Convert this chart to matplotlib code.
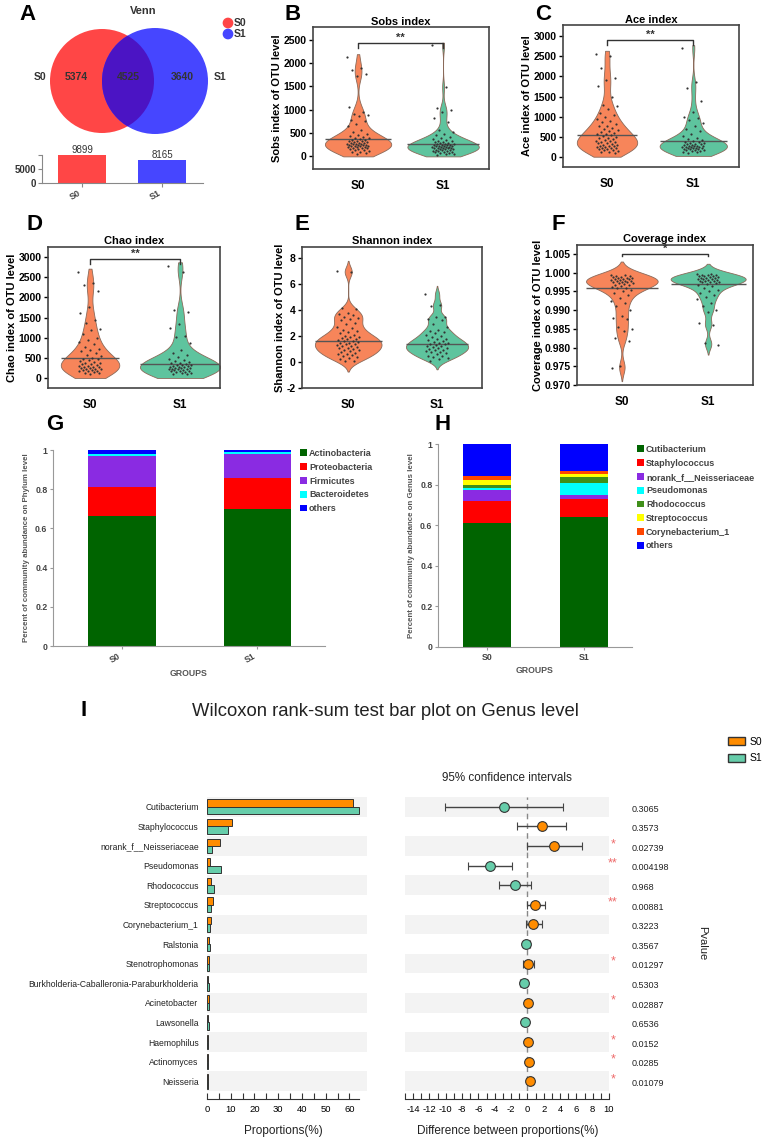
import numpy as np
import matplotlib
matplotlib.use("Agg")
import matplotlib.pyplot as plt
from matplotlib.patches import Circle, Patch

plt.rcParams['font.family'] = ['Liberation Sans', 'DejaVu Sans']
plt.rcParams['axes.unicode_minus'] = False

# ---------------- DATA ----------------
groups = ["S0", "S1"]

# Venn (A)
venn_only_s0 = 5374
venn_shared = 4525
venn_only_s1 = 3640
venn_totals = [9899, 8165]

# Alpha diversity (B-F), values read from the jittered points
sobs_s0 = [2120, 1900, 1840, 1760, 1720, 1050, 960, 910, 890, 860, 780, 760, 700, 640, 560, 520, 490, 460,
           440, 420, 400, 390, 375, 360, 350, 340, 330, 320, 310, 300, 295, 290, 280, 275, 270, 260, 255,
           250, 245, 240, 235, 230, 225, 220, 215, 210, 200, 195, 190, 180, 170, 160, 150, 140, 130, 115,
           100, 85, 70, 50]
sobs_s1 = [2380, 1480, 1030, 990, 960, 820, 740, 560, 520, 480, 450, 420, 400, 380, 360, 340, 320, 310,
           300, 290, 280, 270, 265, 260, 250, 245, 240, 235, 230, 225, 220, 215, 210, 205, 200, 195, 190,
           185, 180, 175, 170, 165, 160, 150, 145, 140, 130, 125, 120, 110, 100, 95, 90, 80, 70, 60, 50, 40]
sobs_line = [370, 260]

ace_s0 = [2550, 2500, 2200, 1950, 1900, 1760, 1500, 1300, 1260, 1200, 1100, 1030, 1000, 950, 900, 860,
          820, 780, 760, 720, 700, 680, 650, 620, 600, 580, 560, 540, 520, 500, 480, 460, 440, 420, 400,
          390, 380, 360, 350, 340, 320, 300, 290, 280, 270, 260, 250, 240, 230, 220, 210, 200, 190, 180,
          160, 150, 130, 110, 90]
ace_s1 = [2700, 1850, 1700, 1400, 1120, 1000, 960, 920, 850, 780, 700, 640, 580, 520, 480, 450, 420, 400,
          380, 360, 350, 340, 330, 320, 310, 300, 290, 280, 275, 270, 260, 255, 250, 240, 235, 230, 220,
          215, 210, 200, 195, 190, 180, 170, 160, 150, 140, 130, 120, 100]
ace_line = [540, 400]

chao_s0 = [2620, 2350, 2300, 2170, 1760, 1600, 1450, 1370, 1220, 1180, 1100, 1000, 950, 880, 850, 760,
           720, 700, 660, 620, 580, 540, 500, 480, 460, 440, 420, 400, 380, 360, 350, 340, 320, 300, 290,
           280, 270, 260, 250, 240, 230, 220, 210, 200, 190, 180, 170, 160, 150, 130, 110, 90]
chao_s1 = [2780, 2630, 1680, 1640, 1330, 1250, 1050, 1020, 860, 700, 620, 580, 520, 480, 450, 420, 400,
           380, 360, 340, 330, 320, 310, 300, 290, 280, 270, 260, 250, 245, 240, 230, 220, 215, 210, 200,
           190, 180, 170, 160, 150, 140, 130, 120, 100, 90]
chao_line = [490, 350]

shannon_s0 = [7.0, 6.9, 4.15, 4.05, 3.8, 3.7, 3.6, 3.5, 3.4, 3.3, 3.2, 3.0, 2.9, 2.7, 2.6, 2.5, 2.4, 2.3,
              2.2, 2.1, 2.0, 1.95, 1.9, 1.85, 1.8, 1.75, 1.7, 1.65, 1.6, 1.55, 1.5, 1.45, 1.4, 1.35, 1.3,
              1.25, 1.2, 1.15, 1.1, 1.05, 1.0, 0.95, 0.9, 0.85, 0.8, 0.7, 0.65, 0.6, 0.55, 0.5, 0.4, 0.3,
              0.2, 0.1, 0.05]
shannon_s1 = [5.2, 4.4, 4.3, 3.5, 3.45, 3.3, 3.2, 2.9, 2.7, 2.5, 2.4, 2.3, 2.2, 2.1, 2.0, 1.9, 1.8, 1.75,
              1.7, 1.6, 1.55, 1.5, 1.45, 1.4, 1.35, 1.3, 1.25, 1.2, 1.15, 1.1, 1.05, 1.0, 0.95, 0.9, 0.85,
              0.8, 0.75, 0.7, 0.6, 0.5, 0.45, 0.4, 0.3, 0.2, 0.1]
shannon_line = [1.62, 1.4]

coverage_s0 = [0.9995, 0.9993, 0.9991, 0.9990, 0.9989, 0.9988, 0.9987, 0.9986, 0.9985, 0.9984, 0.9983,
               0.9982, 0.9981, 0.9980, 0.9979, 0.9978, 0.9977, 0.9976, 0.9975, 0.9974, 0.9973, 0.9972,
               0.9970, 0.9968, 0.9966, 0.9965, 0.9963, 0.9960, 0.9958, 0.9955, 0.9950, 0.9945, 0.9940,
               0.9932, 0.9925, 0.9920, 0.9910, 0.9900, 0.9885, 0.9880, 0.9875, 0.9855, 0.9850, 0.9845,
               0.9825, 0.9818, 0.9750, 0.9745]
coverage_s1 = [0.9997, 0.9996, 0.9995, 0.9994, 0.9993, 0.9992, 0.9991, 0.9990, 0.9989, 0.9988, 0.9987,
               0.9986, 0.9985, 0.9984, 0.9983, 0.9982, 0.9981, 0.9980, 0.9979, 0.9978, 0.9977, 0.9976,
               0.9975, 0.9974, 0.9972, 0.9970, 0.9968, 0.9965, 0.9960, 0.9955, 0.9950, 0.9945, 0.9940,
               0.9935, 0.9930, 0.9920, 0.9910, 0.9900, 0.9895, 0.9865, 0.9860, 0.9812, 0.9808]
coverage_line = [0.996, 0.997]

sig_sobs, sig_ace, sig_chao, sig_shannon, sig_coverage = "**", "**", "**", "", "*"

# Phylum composition (G)
phylum_names = ["Actinobacteria", "Proteobacteria", "Firmicutes", "Bacteroidetes", "others"]
phylum_s0 = [0.665, 0.145, 0.160, 0.012, 0.018]
phylum_s1 = [0.700, 0.155, 0.125, 0.008, 0.012]

# Genus composition (H)
genus_names = ["Cutibacterium", "Staphylococcus", "norank_f__Neisseriaceae", "Pseudomonas",
               "Rhodococcus", "Streptococcus", "Corynebacterium_1", "others"]
genus_s0 = [0.612, 0.105, 0.055, 0.012, 0.015, 0.025, 0.018, 0.158]
genus_s1 = [0.642, 0.088, 0.020, 0.058, 0.030, 0.015, 0.012, 0.135]

# Wilcoxon (I)
wil_genus = ["Cutibacterium", "Staphylococcus", "norank_f__Neisseriaceae", "Pseudomonas", "Rhodococcus",
             "Streptococcus", "Corynebacterium_1", "Ralstonia", "Stenotrophomonas",
             "Burkholderia-Caballeronia-Paraburkholderia", "Acinetobacter", "Lawsonella", "Haemophilus",
             "Actinomyces", "Neisseria"]
wil_prop_s0 = [61.4, 10.5, 5.3, 1.3, 1.5, 2.4, 1.7, 0.9, 0.9, 0.5, 0.8, 0.4, 0.6, 0.5, 0.6]
wil_prop_s1 = [64.2, 8.8, 2.1, 5.9, 3.1, 1.5, 1.2, 1.1, 0.8, 1.0, 0.7, 0.7, 0.4, 0.3, 0.3]
wil_diff = [-2.83, 1.76, 3.3, -4.55, -1.48, 0.98, 0.7, -0.12, 0.08, -0.45, 0.1, -0.3, 0.1, 0.2, 0.35]
wil_low = [-10.1, -1.27, 0.0, -7.25, -3.5, 0.0, -0.15, -0.5, -0.5, -0.9, -0.2, -0.6, -0.2, -0.1, 0.05]
wil_high = [4.4, 4.67, 6.7, -1.9, 0.45, 2.1, 1.85, 0.3, 0.75, -0.05, 0.4, 0.05, 0.4, 0.5, 0.65]
wil_p = ["0.3065", "0.3573", "0.02739", "0.004198", "0.968", "0.00881", "0.3223", "0.3567", "0.01297",
         "0.5303", "0.02887", "0.6536", "0.0152", "0.0285", "0.01079"]
wil_stars = ["", "", "*", "**", "", "**", "", "", "*", "", "*", "", "*", "*", "*"]

# ---------------- FIGURE ----------------
W, H = 769, 1144
fig = plt.figure(figsize=(W / 100, H / 100), dpi=100)


def px_axes(l, t, r, b):
    return fig.add_axes([l / W, 1 - b / H, (r - l) / W, (b - t) / H])


def ftext(x, y, s, **kw):
    kw.setdefault("ha", "center")
    kw.setdefault("va", "center")
    return fig.text(x / W, 1 - y / H, s, **kw)


# panel letters
for lab, x, y in [("A", 28, 15), ("B", 293, 15), ("C", 543, 14), ("D", 35, 225), ("E", 302, 225),
                  ("F", 558, 225), ("G", 55, 425), ("H", 443, 425), ("I", 84, 710)]:
    ftext(x, y, lab, fontsize=16, weight="bold", color="black")

# ---------------- A: Venn ----------------
RED, BLUE, PURP = "#ff4646", "#4646ff", "#4b14c4"
axv = px_axes(0, 0, 250, 145)
axv.set_xlim(0, 250)
axv.set_ylim(145, 0)
axv.axis("off")
c1 = Circle((102, 81), 52, fc=RED, ec="none")
c2 = Circle((155, 81), 53, fc=BLUE, ec="none")
c3 = Circle((155, 81), 53, fc=PURP, ec="none")
axv.add_patch(c1)
axv.add_patch(c2)
axv.add_patch(c3)
c3.set_clip_path(c1)
tk = dict(fontsize=7.5, weight="bold", color="#333333", ha="center", va="center")
axv.text(40, 77, groups[0], **tk)
axv.text(76, 77, str(venn_only_s0), **tk)
axv.text(128, 77, str(venn_shared), **tk)
axv.text(182, 77, str(venn_only_s1), **tk)
axv.text(220, 77, groups[1], **tk)
axv.text(143, 11, "Venn", fontsize=8, weight="bold", color="#333333", ha="center", va="center")
axv.scatter([228, 228], [23, 34], s=45, c=[RED, BLUE], zorder=3)
axv.text(234, 23, groups[0], fontsize=7.5, weight="bold", color="#333333", va="center")
axv.text(234, 34, groups[1], fontsize=7.5, weight="bold", color="#333333", va="center")

axb = px_axes(42, 155, 203, 183)
axb.bar([0, 1], venn_totals, width=0.6, color=[RED, BLUE])
for i, v in enumerate(venn_totals):
    axb.text(i, v, str(v), ha="center", va="bottom", fontsize=7, color="#333333")
axb.set_xlim(-0.5, 1.51)
axb.set_ylim(0, 10000)
axb.set_yticks([0, 5000, 10000])
axb.set_yticklabels(["0", "5000", ""])
axb.set_xticks([0, 1])
axb.set_xticklabels(groups, rotation=30, ha="right", fontsize=6.5, weight="bold", color="#444444")
for s in ["top", "right"]:
    axb.spines[s].set_visible(False)
for s in ["left", "bottom"]:
    axb.spines[s].set_color("#888888")
axb.tick_params(axis="y", labelsize=7, length=3, color="#888888", labelcolor="#333333", pad=1)
axb.tick_params(axis="x", length=3, color="#888888", pad=1)
for t in axb.get_yticklabels():
    t.set_weight("bold")

# ---------------- B-F: violins ----------------
ORANGE_V, GREEN_V = "#f7855a", "#5ec49e"


def draw_violin(ax, pos, data, color, width, bw, cut, clip_lo=None):
    d = np.asarray(data, float)
    h = bw * d.std(ddof=1) * len(d) ** (-0.2)
    lo, hi = d.min() - cut * h, d.max() + cut * h
    if clip_lo is not None:
        lo = max(lo, clip_lo)
    y = np.linspace(lo, hi, 500)
    dens = np.exp(-0.5 * ((y[:, None] - d[None, :]) / h) ** 2).sum(1)
    half = dens / dens.max() * width / 2
    ax.fill_betweenx(y, pos - half, pos + half, fc=color, ec="#8a6a5a", lw=0.6, zorder=2)
    n = len(d)
    jit = ((np.arange(n) * 0.618034) % 1 - 0.5) * 0.26
    ax.scatter(pos + jit, d, s=2.5, c="#333333", zorder=4, linewidths=0)


panels = [
    dict(box=(313, 27, 489, 169), xlim=(-0.53, 1.54), ylim=(-270, 2770), ticks=np.arange(0, 2501, 500),
         title="Sobs index", ylabel="Sobs index of OTU level", data=(sobs_s0, sobs_s1), line=sobs_line,
         widths=(0.78, 0.84), bw=0.8, cut=0.4, clip=0, sig=sig_sobs, br=(2430, 100), fmt="%d", pad=1),
    dict(box=(563, 25, 739, 167), xlim=(-0.51, 1.53), ylim=(-250, 3275), ticks=np.arange(0, 3001, 500),
         title="Ace index", ylabel="Ace index of OTU level", data=(ace_s0, ace_s1), line=ace_line,
         widths=(0.70, 0.78), bw=0.8, cut=0.4, clip=0, sig=sig_ace, br=(2900, 120), fmt="%d", pad=1),
    dict(box=(48, 247, 220, 388), xlim=(-0.467, 1.444), ylim=(-250, 3250), ticks=np.arange(0, 3001, 500),
         title="Chao index", ylabel="Chao index of OTU level", data=(chao_s0, chao_s1), line=chao_line,
         widths=(0.65, 0.89), bw=0.8, cut=0.4, clip=0, sig=sig_chao, br=(2950, 120), fmt="%d", pad=2.5),
    dict(box=(302, 247, 482, 388), xlim=(-0.52, 1.506), ylim=(-2, 8.85), ticks=np.arange(-2, 8.1, 2),
         title="Shannon index", ylabel="Shannon index of OTU level", data=(shannon_s0, shannon_s1),
         line=shannon_line, widths=(0.75, 0.70), bw=0.6, cut=2.0, clip=None, sig=sig_shannon, br=None,
         fmt="%d", pad=2.5),
    dict(box=(577, 245, 753, 385), xlim=(-0.52, 1.52), ylim=(0.970, 1.0074),
         ticks=np.arange(0.970, 1.0051, 0.005), title="Coverage index", ylabel="Coverage index of OTU level",
         data=(coverage_s0, coverage_s1), line=coverage_line, widths=(0.83, 0.87), bw=0.6, cut=2.0,
         clip=None, sig=sig_coverage, br=(1.005, 0.0006), fmt="%.3f", pad=2.5),
]

for p in panels:
    ax = px_axes(*p["box"])
    for i, (d, c) in enumerate(zip(p["data"], [ORANGE_V, GREEN_V])):
        draw_violin(ax, i, d, c, p["widths"][i], p["bw"], p["cut"], p["clip"])
        ax.hlines(p["line"][i], i - p["widths"][i] / 2, i + p["widths"][i] / 2, color="#555555",
                  lw=1.0, zorder=3)
    ax.set_xlim(*p["xlim"])
    ax.set_ylim(*p["ylim"])
    ax.set_yticks(p["ticks"])
    ax.yaxis.set_major_formatter(matplotlib.ticker.FormatStrFormatter(p["fmt"]))
    ax.set_xticks([0, 1])
    ax.set_xticklabels(groups, fontsize=8.5, weight="bold")
    ax.tick_params(axis="x", length=0, pad=8)
    ax.tick_params(axis="y", labelsize=7.5, length=3, width=1, pad=1.5)
    for t in ax.get_yticklabels():
        t.set_weight("bold")
    for s in ax.spines.values():
        s.set_color("#444444")
        s.set_linewidth(1.2)
    ax.set_title(p["title"], fontsize=8, weight="bold", pad=p["pad"])
    ax.set_ylabel(p["ylabel"], fontsize=8, weight="bold", labelpad=1.5)
    if p["br"] is not None:
        yb, dy = p["br"]
        ax.plot([0, 0, 1, 1], [yb - dy, yb, yb, yb - dy], color="#333333", lw=1.0, zorder=5)
        ax.text(0.5, yb, p["sig"], ha="center", va="bottom", fontsize=8, weight="bold", color="#333333")

# ---------------- G / H: stacked bars ----------------
phylum_colors = ["#006400", "#ff0000", "#8a2be2", "#00ffff", "#0000ff"]
genus_colors = ["#006400", "#ff0000", "#8a2be2", "#00ffff", "#3f8f1a", "#ffff00", "#ff4500", "#0000ff"]


def stacked(box, s0, s1, names, colors, ylabel, rot, leg_xy):
    ax = px_axes(*box)
    bottoms = np.zeros(2)
    handles = []
    for k, (nm, col) in enumerate(zip(names, colors)):
        vals = np.array([s0[k], s1[k]])
        bh = ax.bar([0, 1], vals, bottom=bottoms, width=0.5, color=col, label=nm)
        handles.append(bh)
        bottoms += vals
    ax.set_xlim(-0.51, 1.5)
    ax.set_ylim(0, 1)
    ax.set_yticks([0, 0.2, 0.4, 0.6, 0.8, 1.0])
    ax.set_yticklabels(["0", "0.2", "0.4", "0.6", "0.8", "1"])
    ax.set_xticks([0, 1])
    if rot:
        ax.set_xticklabels(groups, rotation=30, ha="right", fontsize=6.3, weight="bold", color="#444444")
    else:
        ax.set_xticklabels(groups, fontsize=6.3, weight="bold", color="#444444")
    for s in ["top", "right"]:
        ax.spines[s].set_visible(False)
    for s in ["left", "bottom"]:
        ax.spines[s].set_color("#999999")
        ax.spines[s].set_linewidth(0.8)
    ax.tick_params(labelsize=6.3, length=2.5, color="#999999", labelcolor="#444444", pad=1.5)
    for t in ax.get_yticklabels():
        t.set_weight("bold")
    ax.set_xlabel("GROUPS", fontsize=6.3, weight="bold", color="#555555", labelpad=3)
    ax.set_ylabel(ylabel, fontsize=5.7, weight="bold", color="#555555", labelpad=4)
    fig.legend(handles, names, loc="upper left", bbox_to_anchor=(leg_xy[0] / W, 1 - leg_xy[1] / H),
               frameon=False, handlelength=0.8, handleheight=0.8, handletextpad=0.2,
               labelspacing=0.53, borderaxespad=0, borderpad=0, prop=dict(size=6.5, weight="bold"),
               labelcolor="#444444")
    return ax


stacked((53, 450, 325, 646), phylum_s0, phylum_s1, phylum_names, phylum_colors,
        "Percent of community abundance on Phylum level", True, (300, 449))
stacked((438, 444, 632, 647), genus_s0, genus_s1, genus_names, genus_colors,
        "Percent of community abundance on Genus level", False, (637, 445))

# ---------------- I: Wilcoxon ----------------
C0, C1 = "#ff8c00", "#66cdaa"
ftext(385, 712, "Wilcoxon rank-sum test bar plot on Genus level", fontsize=13.3, color="#222222")
ftext(507, 778, "95% confidence intervals", fontsize=8.4, color="#222222")
ftext(283, 1131, "Proportions(%)", fontsize=8.5, color="#222222")
ftext(508, 1131, "Difference between proportions(%)", fontsize=8.5, color="#222222")
ftext(702, 943, "Pvalue", fontsize=8, color="#222222", rotation=-90)

n = len(wil_genus)
rows = np.arange(n)

axl = px_axes(207, 797, 367, 1091)
for i in range(0, n, 2):
    axl.axhspan(i - 0.5, i + 0.5, color="#f3f3f3", zorder=0, lw=0)
axl.barh(rows - 0.19, wil_prop_s0, height=0.37, color=C0, edgecolor="#333333", lw=0.7, zorder=2)
axl.barh(rows + 0.19, wil_prop_s1, height=0.37, color=C1, edgecolor="#333333", lw=0.7, zorder=2)
pmax = max(max(wil_prop_s0), max(wil_prop_s1))
axl.set_xlim(0, 67.4)
axl.set_ylim(n - 0.5, -0.5)
axl.set_yticks(rows)
axl.set_yticklabels(wil_genus, fontsize=6.2, color="#222222")
axl.tick_params(axis="y", length=0, pad=6)
for s in ["top", "right", "left"]:
    axl.spines[s].set_visible(False)
axl.spines["bottom"].set_position(("outward", 6))
axl.spines["bottom"].set_bounds(0, pmax)
axl.spines["bottom"].set_color("#333333")
axl.spines["bottom"].set_linewidth(0.8)
axl.set_xticks(np.arange(0, 61, 10))
axl.set_xticks(np.arange(5, 60, 10), minor=True)
axl.tick_params(axis="x", which="both", direction="in", length=4, width=0.8, color="#333333",
                labelsize=6.8, pad=4)

axr = px_axes(405, 797, 609, 1091)
for i in range(0, n, 2):
    axr.axhspan(i - 0.5, i + 0.5, color="#f3f3f3", zorder=0, lw=0)
axr.axvline(0, color="#888888", lw=1.0, ls=(0, (4, 3)), zorder=1)
for i in range(n):
    col = C0 if wil_diff[i] > 0 else C1
    axr.errorbar([wil_diff[i]], [i], xerr=[[wil_diff[i] - wil_low[i]], [wil_high[i] - wil_diff[i]]],
                 fmt="o", ms=7, mfc=col, mec="#333333", mew=0.8, ecolor="#444444", elinewidth=1.0,
                 capsize=3, capthick=1.0, zorder=3)
    axr.text(12.8, i + 0.12, wil_p[i], fontsize=6.5, ha="left", va="center", color="#222222",
             clip_on=False)
    if wil_stars[i]:
        axr.text(10.5, i - 0.1, wil_stars[i], fontsize=9, ha="center", va="center", color="#ee6a6a",
                 clip_on=False)
axr.set_xlim(-15, 10)
axr.set_ylim(n - 0.5, -0.5)
axr.set_yticks([])
for s in ["top", "right", "left"]:
    axr.spines[s].set_visible(False)
axr.spines["bottom"].set_position(("outward", 6))
axr.spines["bottom"].set_bounds(-15, 10)
axr.spines["bottom"].set_color("#333333")
axr.spines["bottom"].set_linewidth(0.8)
axr.set_xticks(np.arange(-14, 11, 2))
axr.set_xticks(np.arange(-15, 10, 2), minor=True)
axr.tick_params(axis="x", which="both", direction="in", length=4, width=0.8, color="#333333",
                labelsize=6.8, pad=4)

fig.legend([Patch(fc=C0, ec="#333333"), Patch(fc=C1, ec="#333333")], groups, loc="upper right",
           bbox_to_anchor=(762 / W, 1 - 737 / H), frameon=False, fontsize=7.5, handlelength=1.6,
           handleheight=0.8, labelspacing=0.6, handletextpad=0.4, borderpad=0, borderaxespad=0)

fig.savefig("out.png", dpi=100)
